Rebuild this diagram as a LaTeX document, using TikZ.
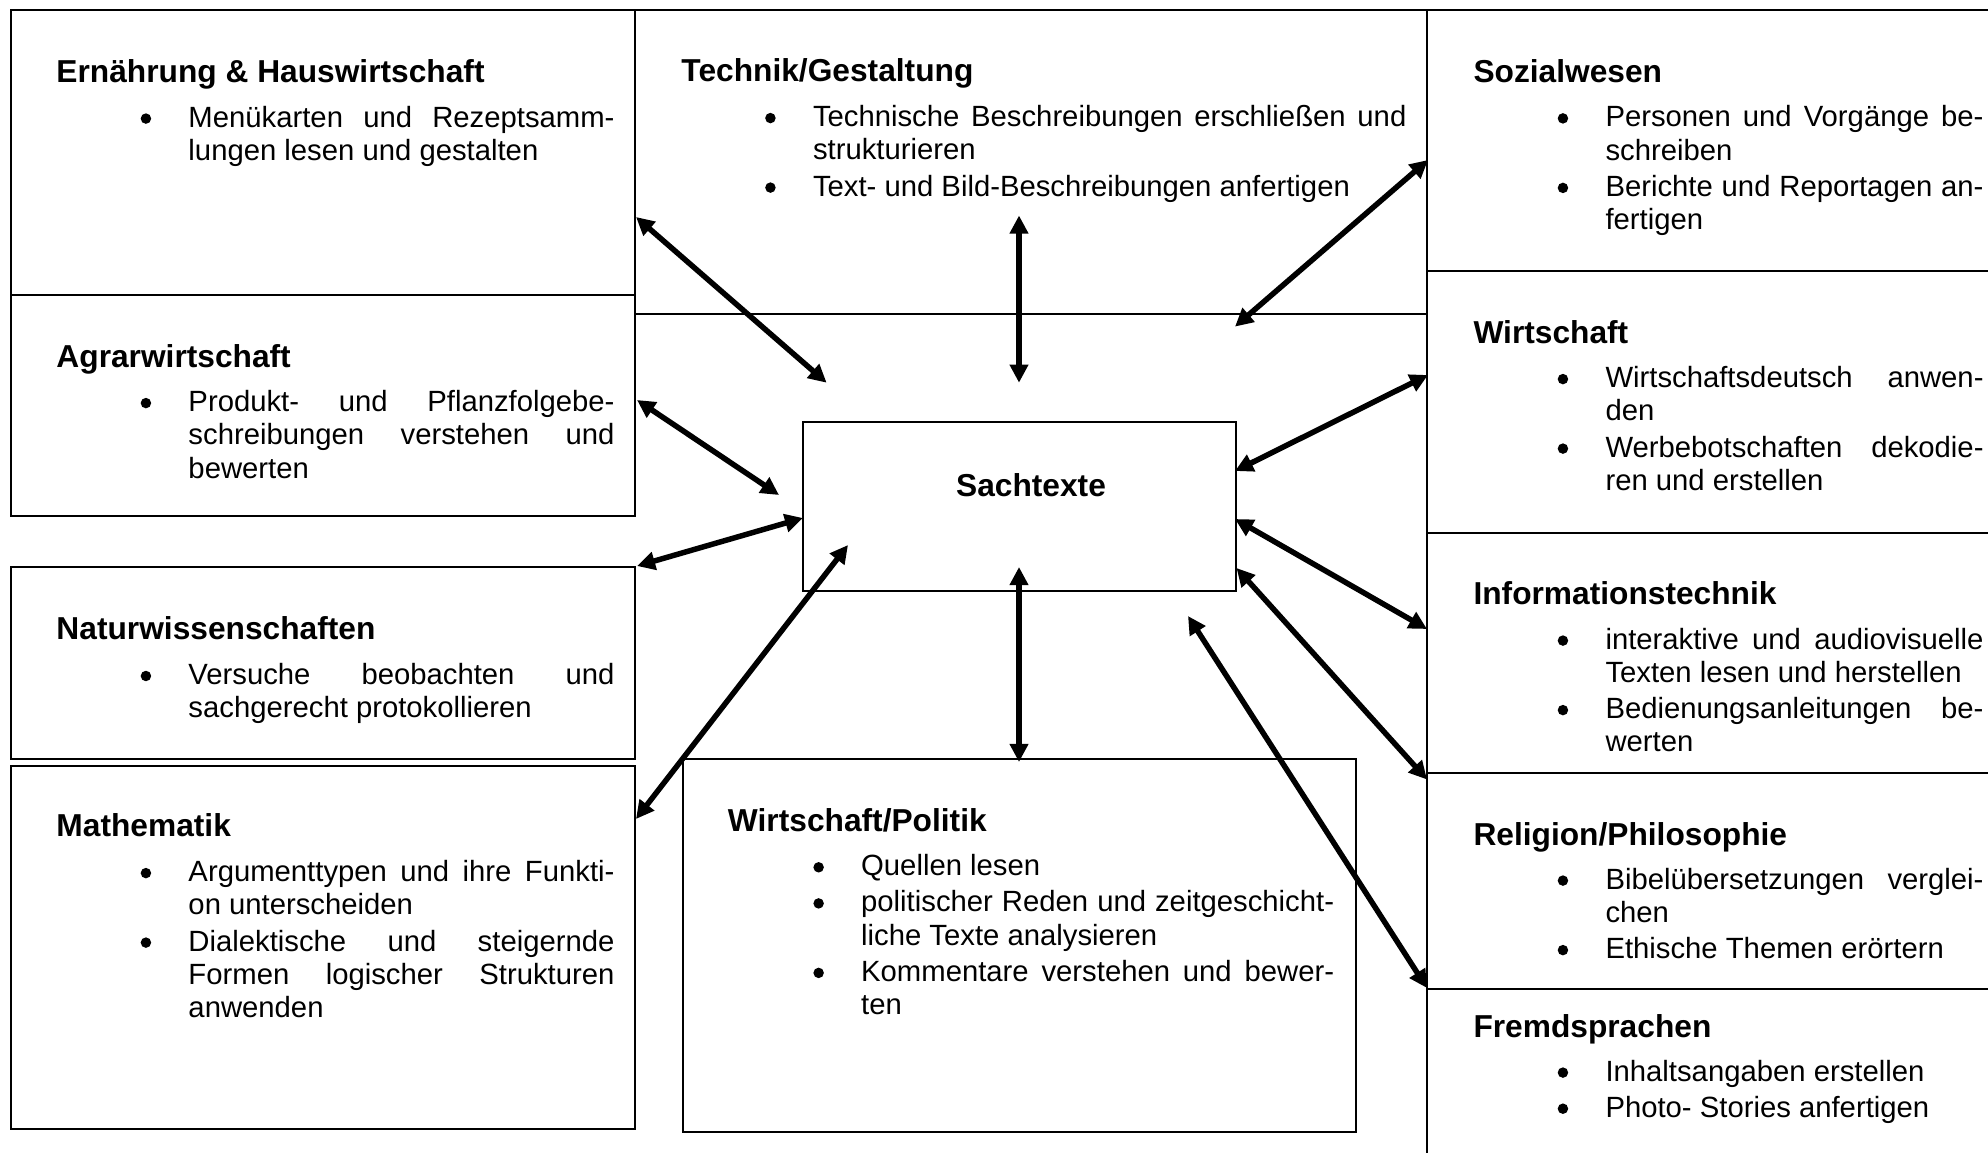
\documentclass[tikz,border=0pt]{standalone}
\usepackage{fontspec}
\setmainfont{Liberation Sans}
\usetikzlibrary{arrows.meta,fit}
\newcommand{\bt}{\llap{\tikz[baseline=-3.45pt]\fill (0,0) circle (2.15pt);\hskip15.3pt}}
\newcommand{\jl}[1]{\hbox to\hsize{#1}}
\newcommand{\nl}[1]{\hbox{#1}}
\newcommand{\blist}[2]{\vtop{\hsize=#1\relax #2}}
\newcommand{\isep}{\vskip1.1pt}
\tikzset{
  box/.style={draw, line width=0.55pt, inner sep=0pt},
  hd/.style={anchor=base west, inner sep=0pt, font=\bfseries\fontsize{13}{15.6}\selectfont},
  lst/.style={anchor=base west, inner sep=0pt, font=\fontsize{12}{13.7}\selectfont},
  arr/.style={{Triangle[length=7.4pt,width=7.3pt]}-{Triangle[length=7.4pt,width=7.3pt]}, line width=2.25pt}
}
\begin{document}
\begin{tikzpicture}[x=0.41pt,y=-0.41pt]
\useasboundingbox (0,0) rectangle (1988,1152);
\clip (0,0) rectangle (1988,1152);
% boxes
\node[box, fit={(11,10) (635,295)}] (ern) {};
\node[box, fit={(11,295) (635,516)}] (agr) {};
\node[box, fit={(11,567) (635,759)}] (nat) {};
\node[box, fit={(11,766) (635,1129)}] (mat) {};
\node[box, fit={(635,10) (1427,314)}] (tec) {};
\node[box, fit={(803,422) (1236,591)}] (sach) {};
\node[box, fit={(683,759) (1356,1132)}] (wp) {};
\node[box, fit={(1427,10) (2010,271)}] (soz) {};
\node[box, fit={(1427,271) (2010,533)}] (wir) {};
\node[box, fit={(1427,533) (2010,773)}] (inf) {};
\node[box, fit={(1427,773) (2010,989)}] (rel) {};
\node[box, fit={(1427,989) (2010,1200)}] (fre) {};
% headings
\node[hd] (ern-h) at (56,82.5) {Ernährung \& Hauswirtschaft};
\node[hd] (agr-h) at (56,367) {Agrarwirtschaft};
\node[hd] (nat-h) at (56,639.5) {Naturwissenschaften};
\node[hd] (mat-h) at (56,836.6) {Mathematik};
\node[hd] (tec-h) at (681,81) {Technik/Gestaltung};
\node[hd] (wp-h) at (727.5,831) {Wirtschaft/Politik};
\node[hd] (soz-h) at (1473,82) {Sozialwesen};
\node[hd] (wir-h) at (1473,343) {Wirtschaft};
\node[hd] (inf-h) at (1473,604.7) {Informationstechnik};
\node[hd] (rel-h) at (1473,845.7) {Religion/Philosophie};
\node[hd] (fre-h) at (1473,1037) {Fremdsprachen};
\node[hd, anchor=base] (sach-t) at (1031,496) {Sachtexte};
% lists
\node[lst] (ern-l) at (188,127) {\blist{174.66pt}{%
  \jl{\bt Menükarten und Rezeptsamm-}
  \nl{lungen lesen und gestalten}}};
\node[lst] (agr-l) at (188,411.5) {\blist{174.66pt}{%
  \jl{\bt Produkt- und Pflanzfolgebe-}
  \jl{schreibungen verstehen und}
  \nl{bewerten}}};
\node[lst] (nat-l) at (188,684.4) {\blist{174.66pt}{%
  \jl{\bt Versuche beobachten und}
  \nl{sachgerecht protokollieren}}};
\node[lst] (mat-l) at (188,881.5) {\blist{174.66pt}{%
  \jl{\bt Argumenttypen und ihre Funkti-}
  \nl{on unterscheiden}\isep
  \jl{\bt Dialektische und steigernde}
  \jl{Formen logischer Strukturen}
  \nl{anwenden}}};
\node[lst] (tec-l) at (812.5,126.5) {\blist{243.3pt}{%
  \jl{\bt Technische Beschreibungen erschließen und}
  \nl{strukturieren}\isep
  \nl{\bt Text- und Bild-Beschreibungen anfertigen}}};
\node[lst] (wp-l) at (860.7,875.7) {\blist{193.9pt}{%
  \nl{\bt Quellen lesen}\isep
  \jl{\bt politischer Reden und zeitgeschicht-}
  \nl{liche Texte analysieren}\isep
  \jl{\bt Kommentare verstehen und bewer-}
  \nl{ten}}};
\node[lst] (soz-l) at (1605,126.8) {\blist{155pt}{%
  \jl{\bt Personen und Vorgänge be-}
  \nl{schreiben}\isep
  \jl{\bt Berichte und Reportagen an-}
  \nl{fertigen}}};
\node[lst] (wir-l) at (1605,387.5) {\blist{155pt}{%
  \jl{\bt Wirtschaftsdeutsch anwen-}
  \nl{den}\isep
  \jl{\bt Werbebotschaften dekodie-}
  \nl{ren und erstellen}}};
\node[lst] (inf-l) at (1605,649) {\blist{155pt}{%
  \jl{\bt interaktive und audiovisuelle}
  \nl{Texten lesen und herstellen}\isep
  \jl{\bt Bedienungsanleitungen be-}
  \nl{werten}}};
\node[lst] (rel-l) at (1605,889) {\blist{155pt}{%
  \jl{\bt Bibelübersetzungen verglei-}
  \nl{chen}\isep
  \nl{\bt Ethische Themen erörtern}}};
\node[lst] (fre-l) at (1605,1081) {\blist{155pt}{%
  \nl{\bt Inhaltsangaben erstellen}\isep
  \nl{\bt Photo- Stories anfertigen}}};
% arrow end points
\coordinate (e1) at (636,217);   \coordinate (s1) at (826.6,382.7);
\coordinate (e2) at (1019,215.5); \coordinate (s2) at (1019,382.7);
\coordinate (e3) at (1428,160);  \coordinate (s3) at (1235,326.6);
\coordinate (e4) at (637,400);   \coordinate (s4) at (779,495);
\coordinate (e5) at (637,566);   \coordinate (s5) at (803,518);
\coordinate (e6) at (1428,375);  \coordinate (s6) at (1235,471);
\coordinate (e7) at (1427,629);  \coordinate (s7) at (1235,519);
\coordinate (e8) at (1427,779.5); \coordinate (s8) at (1236.5,568);
\coordinate (e9) at (636,819);   \coordinate (s9) at (848,545);
\coordinate (e10) at (1019,762); \coordinate (s10) at (1019,567);
\coordinate (e11) at (1427,988); \coordinate (s11) at (1188,616);
\foreach \i in {1,...,11} \draw[arr] (e\i) -- (s\i);
\end{tikzpicture}
\end{document}
